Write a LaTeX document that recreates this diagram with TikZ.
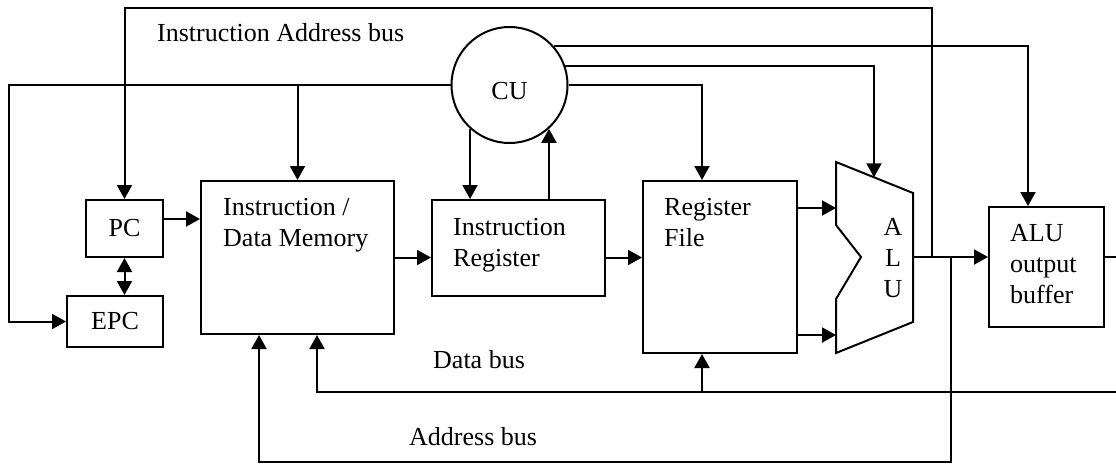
\documentclass[tikz,border=0pt]{standalone}
\usepackage{fontspec}
\setmainfont{Liberation Serif}
\usetikzlibrary{arrows.meta}
\begin{document}
\begin{tikzpicture}[x=1pt,y=-1pt,
  txt/.style={font=\fontsize{26}{31}\selectfont, inner sep=0pt, align=left},
  box/.style={draw, line width=2pt, rectangle, inner sep=0pt},
  wire/.style={line width=2pt},
  arr/.style={wire, -{Triangle[length=14pt,width=15pt]}},
  dblarr/.style={wire, {Triangle[length=14pt,width=15pt]}-{Triangle[length=14pt,width=15pt]}},
]
\useasboundingbox[fill=white] (0,0) rectangle (1116,463);

% blocks
\node[box, txt, minimum width=77pt, minimum height=57pt] (pc) at (124.5,228.5) {PC};
\node[box, txt, minimum width=96pt, minimum height=51pt] (epc) at (115,321.5) {EPC};
\node[box, minimum width=193pt, minimum height=153pt] (mem) at (297.5,257.5) {};
\node[txt, anchor=west] (memtxt) at (223,225) {Instruction /\\Data Memory};
\node[box, minimum width=173pt, minimum height=96pt] (ir) at (518.5,248) {};
\node[txt, anchor=west] (irtxt) at (453,245) {Instruction\\Register};
\node[box, minimum width=154pt, minimum height=172pt] (rf) at (720,267) {};
\node[txt, anchor=west] (rftxt) at (664,222.3) {Register\\File};
\node[box, minimum width=115pt, minimum height=120pt] (buf) at (1046.5,267) {};
\node[txt, anchor=west] (buftxt) at (1010,263.8) {ALU\\output\\buffer};
\node[draw, circle, line width=2pt, minimum size=116pt, inner sep=0pt] (cu) at (509.5,85) {};
\node[txt] (cutxt) at (509.5,91.5) {CU};

% ALU outline
\coordinate (a1) at (836,162);
\coordinate (a2) at (913,193);
\coordinate (a3) at (913,322);
\coordinate (a4) at (836,353);
\coordinate (a5) at (836,299);
\coordinate (a6) at (861,257);
\coordinate (a7) at (836,225);
\draw[wire, line join=miter] (a1) -- (a2) -- (a3) -- (a4) -- (a5) -- (a6) -- (a7) -- cycle;
\node[txt, align=center] (alutxt) at (893,257.8) {A\\L\\U};

% bus labels
\node[txt, anchor=west] (iablbl) at (157,33) {Instruction Address bus};
\node[txt, anchor=west] (dblbl) at (433,360) {Data bus};
\node[txt, anchor=west] (ablbl) at (409,437) {Address bus};

% wiring points
\coordinate (aluout) at (913,257);
\coordinate (j1) at (932,257);
\coordinate (j2) at (951,257);
\coordinate (iabtop) at (932,8);
\coordinate (lft) at (9,0);
\coordinate (abus) at (951,462);
\coordinate (dright) at (1116,392);
\coordinate (bright) at (1116,257);
\coordinate (alutop) at (874,177.3);

% connectors
\draw[arr] (j1) -- (iabtop) -| (pc.north);
\draw[arr] (cu.west) -| (lft |- epc.west) -- (epc.west);
\draw[arr] (mem.north |- cu.west) -- (mem.north);
\draw[arr] ([yshift=9.5pt]pc.east) -- ([yshift=9.5pt]pc.east -| mem.west);
\draw[dblarr] (pc.south) -- (pc.south |- epc.north);
\draw[arr] (mem.east) -- (mem.east -| ir.west);
\draw[arr] (mem.east -| ir.east) -- (mem.east -| rf.west);
\draw[arr] (cu.228) -- (cu.228 |- ir.north);
\draw[arr] (cu.312 |- ir.north) -- (cu.312);
\draw[arr] (cu.east) -| ([xshift=-18pt]rf.north);
\draw[arr] (cu.19) -| (alutop);
\draw[arr] (cu.41) -| ([xshift=-18.5pt]buf.north);
\draw[arr] ([yshift=59pt]rf.east) -- ([yshift=59pt]rf.east -| a1);
\draw[arr] ([yshift=-68pt]rf.east) -- ([yshift=-68pt]rf.east -| a1);
\draw[arr] (aluout) -- (aluout -| buf.west);
\draw[arr] (j2) -- (abus) -| ([xshift=-38.5pt]mem.south);
\draw[arr] (dright) -| ([xshift=19.5pt]mem.south);
\draw[arr] ([xshift=-18pt]rf.south |- dright) -- ([xshift=-18pt]rf.south);
\draw[wire] (aluout -| buf.east) -- (bright);
\end{tikzpicture}
\end{document}
